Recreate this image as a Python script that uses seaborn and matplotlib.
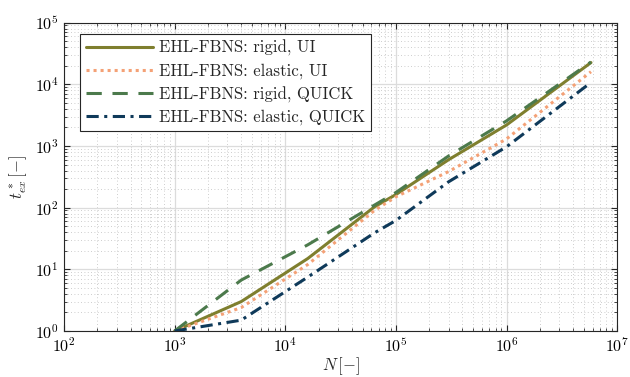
import numpy as np
import pandas as pd
import matplotlib
matplotlib.use("Agg")
import matplotlib.pyplot as plt
import seaborn as sns

# Data
N = [1e3, 4e3, 1.6e4, 6.4e4, 1e5, 3e5, 1e6, 5.8e6]
rigid_ui = [1.0, 3.0, 15, 103, 163, 600, 2190, 2.25e4]
elastic_ui = [1.0, 2.4, 12, 90, 150, 385, 1300, 1.6e4]
rigid_quick = [1.0, 6.7, 25, 110, 176, 690, 2550, 2.3e4]
elastic_quick = [1.0, 1.5, 7.5, 39, 62, 263, 970, 1.07e4]

labels = ["EHL-FBNS: rigid, UI", "EHL-FBNS: elastic, UI",
          "EHL-FBNS: rigid, QUICK", "EHL-FBNS: elastic, QUICK"]
series = [rigid_ui, elastic_ui, rigid_quick, elastic_quick]
colors = ["#7f7f2e", "#f4a176", "#4c7a4c", "#0f3a5a"]

sns.set_style("ticks")
plt.rcParams["font.family"] = ["cmr10", "DejaVu Serif"]
plt.rcParams["mathtext.fontset"] = "cm"
plt.rcParams["axes.formatter.use_mathtext"] = True

fig = plt.figure(figsize=(6.3, 3.77), dpi=100)
ax = fig.add_axes([0.1016, 0.122, 0.878, 0.818])

styles = [dict(linestyle="-"), dict(linestyle=(0, (1, 1.3))),
          dict(linestyle=(0, (5, 3.5))), dict(linestyle=(0, (4, 1.8, 1, 1.8)))]
for lab, ys, c, st in zip(labels, series, colors, styles):
    df = pd.DataFrame({"N": N, "t": ys})
    sns.lineplot(data=df, x="N", y="t", ax=ax, color=c, lw=2.2, label=lab, **st)

ax.set_xscale("log")
ax.set_yscale("log")
ax.set_xlim(1e2, 1e7)
ax.set_ylim(1e0, 1e5)

ax.grid(True, which="major", color="#dcdcdc", lw=0.9, ls="-")
ax.grid(True, which="minor", color="#bdbdbd", lw=0.6, ls=(0, (1, 3)))
ax.set_axisbelow(True)
ax.tick_params(which="both", direction="in", top=True, right=True, colors="#262626")
ax.tick_params(which="major", length=4, labelsize=11.5, labelcolor="black", pad=4)
ax.tick_params(which="minor", length=2)
ax.xaxis.set_minor_locator(matplotlib.ticker.LogLocator(base=10, subs=np.arange(2, 10), numticks=20))
ax.yaxis.set_minor_locator(matplotlib.ticker.LogLocator(base=10, subs=np.arange(2, 10), numticks=20))
for s in ax.spines.values():
    s.set_color("#262626")
    s.set_linewidth(0.8)

ax.set_xlabel(r"$N\,[-]$", fontsize=12, labelpad=0)
ax.set_ylabel(r"$t^*_{ex}\,[-]$", fontsize=12, labelpad=4)

leg = ax.legend(loc="upper left", bbox_to_anchor=(0.029, 0.962), fontsize=12,
                frameon=True, fancybox=False, edgecolor="#262626", framealpha=1,
                handlelength=4.0, handletextpad=0.4, borderpad=0.35, labelspacing=0.42,
                borderaxespad=0.0)
leg.get_frame().set_linewidth(0.8)

fig.savefig("out.png", dpi=100)
